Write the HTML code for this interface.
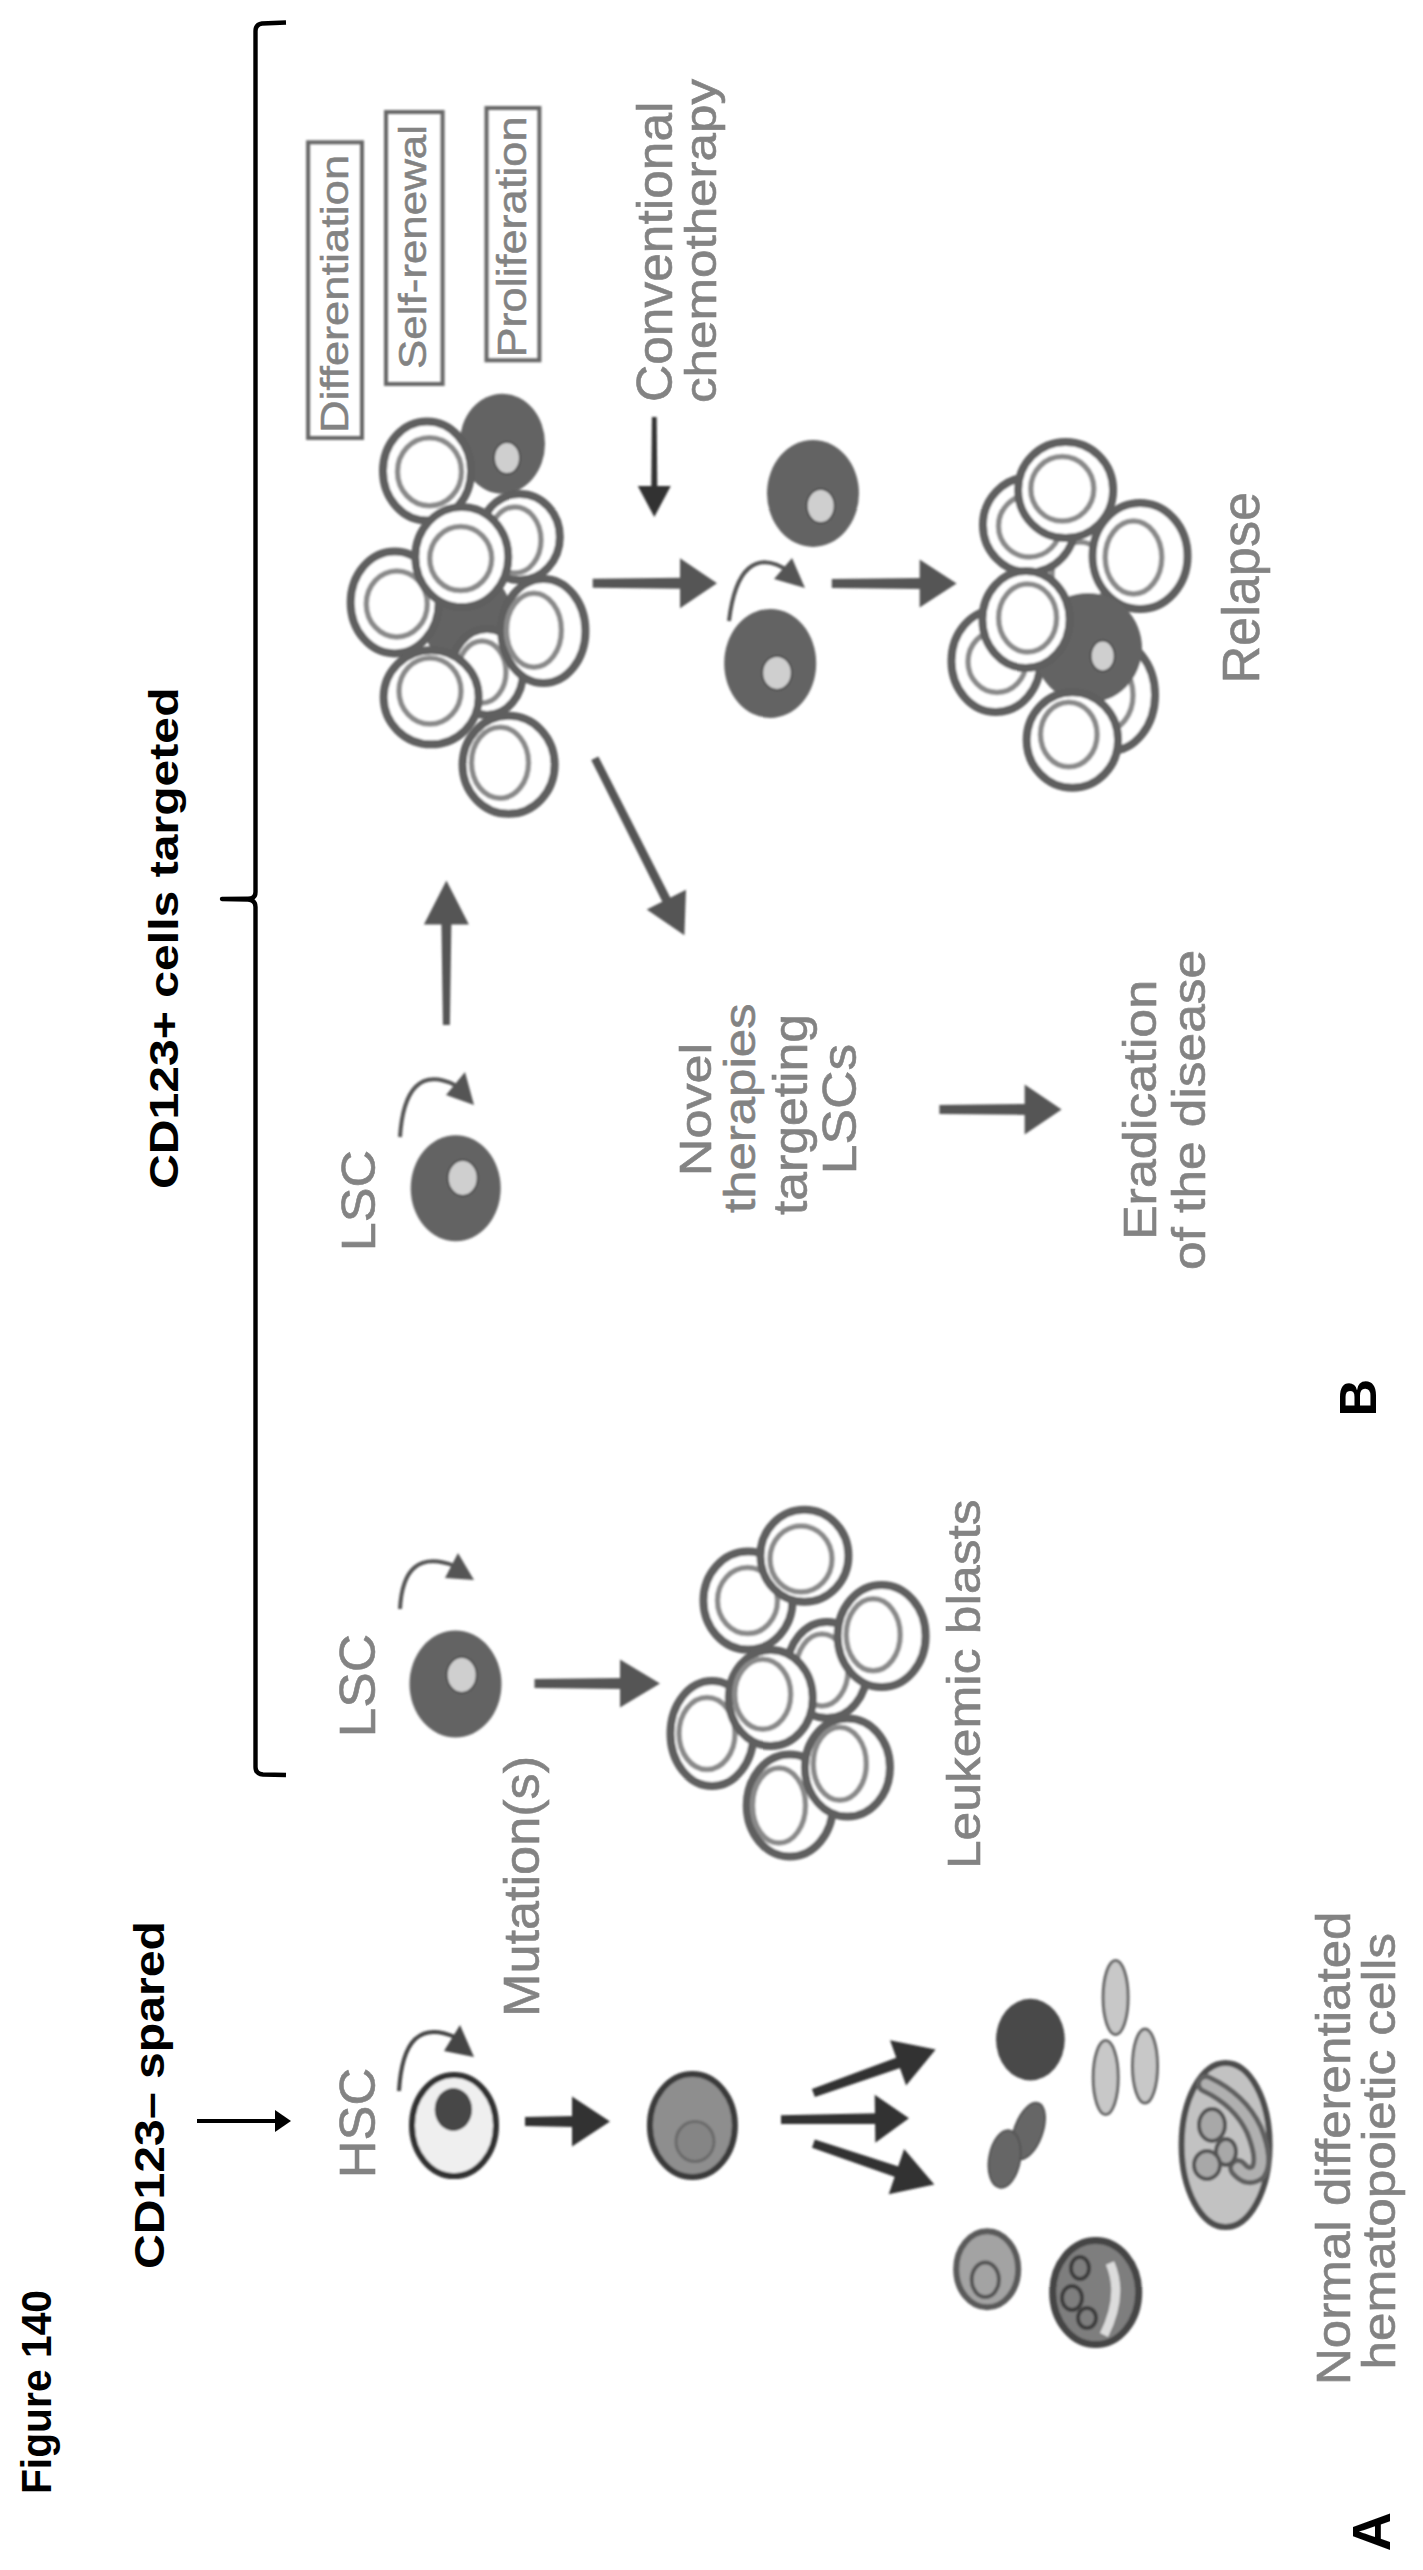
<!DOCTYPE html>
<html><head><meta charset="utf-8"><title>Figure 140</title>
<style>html,body{margin:0;padding:0;background:#fff;width:1423px;height:2570px;overflow:hidden}svg{display:block}text{font-family:"Liberation Sans",sans-serif}</style></head><body>
<svg width="1423" height="2570" viewBox="0 0 1423 2570">
<defs><filter id="soft" x="-2%" y="-2%" width="104%" height="104%"><feGaussianBlur stdDeviation="0.9"/></filter></defs>
<rect width="1423" height="2570" fill="#fff"/>
<path d="M286,22.5 L262,23.5 Q255.5,24.5 255.5,31 L255.5,892 Q255.5,898.7 248,898.7 L222,899 L248,899.5 Q255.5,900 255.5,907 L255.5,1767 Q255.5,1774 263,1774.5 L286,1775" fill="none" stroke="#000" stroke-width="4.4" stroke-linejoin="round"/>
<polygon points="197.0,2123.0 277.0,2123.0 277.0,2119.0 197.0,2119.0" fill="#000"/>
<polygon points="291.0,2121.0 275.0,2132.0 275.0,2110.0" fill="#000"/>
<g filter="url(#soft)">
<path d="M399,2091 C402,2040 420,2022 455,2037" fill="none" stroke="#444" stroke-width="4"/>
<polygon points="444.0,2051.0 460.0,2025.0 474.0,2057.0" fill="#444"/>
<ellipse cx="454.0" cy="2125.5" rx="42.0" ry="50.5" fill="#efefef" stroke="#333" stroke-width="6" />
<ellipse cx="453.4" cy="2109.5" rx="18.7" ry="21.4" fill="#474747" stroke="none" stroke-width="0" />
<polygon points="525.0,2125.9 574.0,2127.0 574.0,2116.0 525.0,2117.1" fill="#333"/>
<polygon points="610.0,2121.5 572.0,2146.5 572.0,2096.5" fill="#333"/>
<ellipse cx="692.4" cy="2125.5" rx="42.5" ry="51.5" fill="#8e8e8e" stroke="#3a3a3a" stroke-width="6" />
<ellipse cx="695.0" cy="2141.5" rx="19.0" ry="20.0" fill="#858585" stroke="#6a6a6a" stroke-width="3" />
<polygon points="814.9,2097.1 901.7,2067.4 898.1,2057.1 811.9,2088.9" fill="#333"/>
<polygon points="935.7,2049.5 906.1,2085.5 890.0,2040.3" fill="#333"/>
<polygon points="781.0,2124.1 877.1,2124.1 876.9,2113.2 781.0,2115.3" fill="#333"/>
<polygon points="909.0,2118.3 875.3,2142.7 874.7,2094.7" fill="#333"/>
<polygon points="812.0,2147.8 896.5,2177.5 900.1,2167.0 814.8,2139.4" fill="#333"/>
<polygon points="934.3,2184.4 888.7,2194.3 904.1,2148.9" fill="#333"/>
<ellipse cx="1030.4" cy="2039.6" rx="34.4" ry="40.8" fill="#4a4a4a" stroke="none" stroke-width="0" />
<g transform="rotate(20 1028.4 2131)">
<ellipse cx="1028.4" cy="2131.0" rx="14.0" ry="29.5" fill="#666" stroke="#555" stroke-width="2" />
</g>
<g transform="rotate(10 1004.6 2159)">
<ellipse cx="1004.6" cy="2159.0" rx="15.5" ry="29.0" fill="#666" stroke="#555" stroke-width="2" />
</g>
<ellipse cx="1115.6" cy="1997.5" rx="12.5" ry="37.0" fill="#c8c8c8" stroke="#666" stroke-width="3" />
<ellipse cx="1105.7" cy="2077.6" rx="12.5" ry="37.0" fill="#c8c8c8" stroke="#666" stroke-width="3" />
<ellipse cx="1145.0" cy="2066.0" rx="12.5" ry="37.0" fill="#c8c8c8" stroke="#666" stroke-width="3" />
<ellipse cx="987.2" cy="2269.3" rx="31.0" ry="38.0" fill="#a3a3a3" stroke="#5a5a5a" stroke-width="6" />
<ellipse cx="985.3" cy="2279.7" rx="13.6" ry="17.3" fill="none" stroke="#555" stroke-width="4" />
<ellipse cx="1095.7" cy="2292.6" rx="43.0" ry="52.0" fill="#7e7e7e" stroke="#454545" stroke-width="7" />
<path d="M1110,2263 Q1124,2295 1104,2335" fill="none" stroke="#dcdcdc" stroke-width="9"/>
<ellipse cx="1080.0" cy="2268.0" rx="9.0" ry="11.0" fill="none" stroke="#3e3e3e" stroke-width="4" />
<ellipse cx="1072.0" cy="2298.0" rx="10.0" ry="12.0" fill="none" stroke="#3e3e3e" stroke-width="4" />
<ellipse cx="1087.0" cy="2318.0" rx="9.0" ry="10.0" fill="none" stroke="#3e3e3e" stroke-width="4" />
<ellipse cx="1225.6" cy="2145.0" rx="44.0" ry="82.0" fill="#c2c2c2" stroke="#4e4e4e" stroke-width="6" />
<path d="M1206,2084 Q1240,2100 1254,2130 Q1266,2160 1258,2172 Q1248,2180 1238,2168" fill="none" stroke="#606060" stroke-width="20" stroke-linecap="round"/>
<path d="M1206,2084 Q1240,2100 1254,2130 Q1266,2160 1258,2172 Q1248,2180 1238,2168" fill="none" stroke="#b0b0b0" stroke-width="10" stroke-linecap="round"/>
<ellipse cx="1212.0" cy="2125.0" rx="13.0" ry="16.0" fill="#a8a8a8" stroke="#555" stroke-width="4" />
<ellipse cx="1226.0" cy="2152.0" rx="10.0" ry="13.0" fill="#a8a8a8" stroke="#555" stroke-width="4" />
<ellipse cx="1207.0" cy="2165.0" rx="13.0" ry="14.0" fill="#a8a8a8" stroke="#555" stroke-width="4" />
<path d="M400,1609 C402,1570 418,1552 455,1566" fill="none" stroke="#555" stroke-width="4"/>
<polygon points="445.0,1578.0 458.0,1553.0 474.0,1580.0" fill="#555"/>
<ellipse cx="455.5" cy="1684.0" rx="46.0" ry="53.5" fill="#636363" stroke="none" stroke-width="0" />
<ellipse cx="461.7" cy="1675.0" rx="15.0" ry="18.0" fill="#cfcfcf" stroke="#505050" stroke-width="2" />
<polygon points="534.5,1688.1 622.0,1689.1 622.0,1678.1 534.5,1679.1" fill="#555"/>
<polygon points="660.0,1683.6 620.0,1707.6 620.0,1659.6" fill="#555"/>
<ellipse cx="827.0" cy="1670.0" rx="40.0" ry="48.0" fill="#fff" stroke="#5e5e5e" stroke-width="8" />
<ellipse cx="822.0" cy="1670.0" rx="26.0" ry="36.0" fill="#fff" stroke="#8a8a8a" stroke-width="5.5" />
<ellipse cx="748.0" cy="1600.6" rx="44.5" ry="49.0" fill="#fff" stroke="#5e5e5e" stroke-width="8" />
<ellipse cx="747.5" cy="1600.6" rx="30.0" ry="33.0" fill="#fff" stroke="#8a8a8a" stroke-width="5.5" />
<ellipse cx="804.4" cy="1555.7" rx="44.0" ry="46.0" fill="#fff" stroke="#5e5e5e" stroke-width="8" />
<ellipse cx="801.0" cy="1559.0" rx="31.0" ry="33.0" fill="#fff" stroke="#8a8a8a" stroke-width="5.5" />
<ellipse cx="881.6" cy="1636.0" rx="44.0" ry="51.0" fill="#fff" stroke="#5e5e5e" stroke-width="8" />
<ellipse cx="873.2" cy="1634.8" rx="27.0" ry="36.0" fill="#fff" stroke="#8a8a8a" stroke-width="5.5" />
<ellipse cx="712.0" cy="1733.5" rx="41.5" ry="52.5" fill="#fff" stroke="#5e5e5e" stroke-width="8" />
<ellipse cx="707.0" cy="1733.5" rx="28.0" ry="36.0" fill="#fff" stroke="#8a8a8a" stroke-width="5.5" />
<ellipse cx="770.8" cy="1698.0" rx="42.0" ry="48.0" fill="#fff" stroke="#5e5e5e" stroke-width="8" />
<ellipse cx="762.7" cy="1694.2" rx="28.0" ry="35.0" fill="#fff" stroke="#8a8a8a" stroke-width="5.5" />
<ellipse cx="789.8" cy="1805.5" rx="43.0" ry="51.0" fill="#fff" stroke="#5e5e5e" stroke-width="8" />
<ellipse cx="779.0" cy="1805.5" rx="26.5" ry="37.5" fill="#fff" stroke="#8a8a8a" stroke-width="5.5" />
<ellipse cx="847.4" cy="1767.6" rx="42.5" ry="49.0" fill="#fff" stroke="#5e5e5e" stroke-width="8" />
<ellipse cx="839.8" cy="1763.8" rx="26.5" ry="36.5" fill="#fff" stroke="#8a8a8a" stroke-width="5.5" />
<path d="M400,1137 C403,1090 420,1068 455,1085" fill="none" stroke="#555" stroke-width="4"/>
<polygon points="446.0,1095.0 465.0,1072.0 474.0,1105.0" fill="#555"/>
<ellipse cx="455.7" cy="1188.3" rx="45.0" ry="53.0" fill="#636363" stroke="none" stroke-width="0" />
<ellipse cx="462.7" cy="1178.0" rx="15.0" ry="18.0" fill="#cfcfcf" stroke="#505050" stroke-width="2" />
<polygon points="449.9,1025.0 451.4,922.6 441.4,922.6 442.9,1025.0" fill="#555"/>
<polygon points="446.4,880.6 468.9,924.6 423.9,924.6" fill="#555"/>
<ellipse cx="467.0" cy="618.0" rx="45.0" ry="50.0" fill="#636363" stroke="none" stroke-width="0" />
<ellipse cx="502.3" cy="443.7" rx="42.7" ry="50.0" fill="#636363" stroke="none" stroke-width="0" />
<ellipse cx="507.0" cy="458.0" rx="13.0" ry="16.0" fill="#cfcfcf" stroke="#505050" stroke-width="2" />
<ellipse cx="519.8" cy="537.0" rx="40.0" ry="43.0" fill="#fff" stroke="#5e5e5e" stroke-width="8" />
<ellipse cx="515.0" cy="540.0" rx="26.0" ry="33.0" fill="#fff" stroke="#8a8a8a" stroke-width="5.5" />
<ellipse cx="487.0" cy="672.0" rx="36.0" ry="43.0" fill="#fff" stroke="#5e5e5e" stroke-width="8" />
<ellipse cx="482.0" cy="672.0" rx="24.0" ry="31.0" fill="#fff" stroke="#8a8a8a" stroke-width="5.5" />
<ellipse cx="427.0" cy="471.0" rx="44.0" ry="49.5" fill="#fff" stroke="#5e5e5e" stroke-width="8" />
<ellipse cx="429.5" cy="471.7" rx="32.0" ry="34.0" fill="#fff" stroke="#8a8a8a" stroke-width="5.5" />
<ellipse cx="394.7" cy="602.4" rx="44.0" ry="51.0" fill="#fff" stroke="#5e5e5e" stroke-width="8" />
<ellipse cx="396.8" cy="603.9" rx="30.5" ry="33.0" fill="#fff" stroke="#8a8a8a" stroke-width="5.5" />
<ellipse cx="461.8" cy="557.0" rx="46.5" ry="50.0" fill="#fff" stroke="#5e5e5e" stroke-width="8" />
<ellipse cx="460.7" cy="558.6" rx="31.0" ry="32.0" fill="#fff" stroke="#8a8a8a" stroke-width="5.5" />
<ellipse cx="543.4" cy="630.9" rx="42.0" ry="52.0" fill="#fff" stroke="#5e5e5e" stroke-width="8" />
<ellipse cx="533.9" cy="630.3" rx="27.5" ry="37.0" fill="#fff" stroke="#8a8a8a" stroke-width="5.5" />
<ellipse cx="431.2" cy="697.3" rx="47.5" ry="47.0" fill="#fff" stroke="#5e5e5e" stroke-width="8" />
<ellipse cx="430.0" cy="691.0" rx="31.0" ry="33.0" fill="#fff" stroke="#8a8a8a" stroke-width="5.5" />
<ellipse cx="508.6" cy="764.8" rx="46.0" ry="49.0" fill="#fff" stroke="#5e5e5e" stroke-width="8" />
<ellipse cx="500.0" cy="762.7" rx="28.5" ry="35.5" fill="#fff" stroke="#8a8a8a" stroke-width="5.5" />
<rect x="308.1" y="142.3" width="53.9" height="295.7" fill="none" stroke="#666" stroke-width="4"/>
<rect x="386.0" y="112.0" width="56.6" height="272.0" fill="none" stroke="#666" stroke-width="4"/>
<rect x="486.5" y="108.0" width="52.9" height="252.3" fill="none" stroke="#666" stroke-width="4"/>
<polygon points="651.9,417.0 651.3,488.0 657.3,488.0 656.7,417.0" fill="#333"/>
<polygon points="654.3,517.0 637.8,486.0 670.8,486.0" fill="#333"/>
<polygon points="592.7,587.8 682.0,588.8 682.0,577.8 592.7,578.8" fill="#555"/>
<polygon points="717.0,583.3 680.0,608.3 680.0,558.3" fill="#555"/>
<path d="M729,621 C735,570 755,548 790,572" fill="none" stroke="#555" stroke-width="4"/>
<polygon points="774.0,579.0 792.0,558.0 805.0,588.0" fill="#555"/>
<ellipse cx="770.2" cy="663.4" rx="46.0" ry="54.5" fill="#636363" stroke="none" stroke-width="0" />
<ellipse cx="777.0" cy="672.9" rx="14.8" ry="17.0" fill="#cfcfcf" stroke="#505050" stroke-width="2" />
<ellipse cx="813.0" cy="493.4" rx="46.0" ry="53.5" fill="#636363" stroke="none" stroke-width="0" />
<ellipse cx="820.7" cy="506.0" rx="14.0" ry="17.0" fill="#cfcfcf" stroke="#505050" stroke-width="2" />
<polygon points="591.2,760.0 663.2,903.4 671.3,899.4 598.4,756.4" fill="#555"/>
<polygon points="684.4,935.3 646.7,909.5 686.0,889.7" fill="#555"/>
<polygon points="939.4,1113.9 1026.6,1114.9 1026.6,1103.9 939.4,1104.9" fill="#555"/>
<polygon points="1061.6,1109.4 1024.6,1134.4 1024.6,1084.4" fill="#555"/>
<polygon points="831.8,588.1 921.6,589.1 921.6,578.1 831.8,579.1" fill="#555"/>
<polygon points="956.6,583.6 919.6,607.6 919.6,559.6" fill="#555"/>
<ellipse cx="1085.0" cy="575.0" rx="45.0" ry="48.0" fill="#fff" stroke="#5e5e5e" stroke-width="8" />
<ellipse cx="1080.0" cy="575.0" rx="28.0" ry="33.0" fill="#fff" stroke="#8a8a8a" stroke-width="5.5" />
<ellipse cx="1110.0" cy="695.0" rx="45.0" ry="56.0" fill="#fff" stroke="#5e5e5e" stroke-width="8" />
<ellipse cx="1105.0" cy="695.0" rx="28.0" ry="36.0" fill="#fff" stroke="#8a8a8a" stroke-width="5.5" />
<ellipse cx="1029.0" cy="525.0" rx="46.0" ry="47.5" fill="#fff" stroke="#5e5e5e" stroke-width="8" />
<ellipse cx="1029.5" cy="526.0" rx="31.0" ry="31.0" fill="#fff" stroke="#8a8a8a" stroke-width="5.5" />
<ellipse cx="1065.6" cy="490.0" rx="47.5" ry="48.0" fill="#fff" stroke="#5e5e5e" stroke-width="8" />
<ellipse cx="1062.3" cy="488.8" rx="31.5" ry="32.3" fill="#fff" stroke="#8a8a8a" stroke-width="5.5" />
<ellipse cx="1140.0" cy="556.0" rx="47.5" ry="53.0" fill="#fff" stroke="#5e5e5e" stroke-width="8" />
<ellipse cx="1133.5" cy="557.5" rx="28.3" ry="36.4" fill="#fff" stroke="#8a8a8a" stroke-width="5.5" />
<ellipse cx="996.0" cy="661.0" rx="44.5" ry="51.0" fill="#fff" stroke="#5e5e5e" stroke-width="8" />
<ellipse cx="997.0" cy="661.7" rx="29.0" ry="30.7" fill="#fff" stroke="#8a8a8a" stroke-width="5.5" />
<ellipse cx="1088.0" cy="648.0" rx="54.0" ry="55.0" fill="#636363" stroke="none" stroke-width="0" />
<ellipse cx="1102.7" cy="656.0" rx="12.0" ry="15.4" fill="#cfcfcf" stroke="#505050" stroke-width="2" />
<ellipse cx="1026.0" cy="619.5" rx="43.6" ry="48.5" fill="#fff" stroke="#5e5e5e" stroke-width="8" />
<ellipse cx="1027.6" cy="618.0" rx="29.0" ry="34.0" fill="#fff" stroke="#8a8a8a" stroke-width="5.5" />
<ellipse cx="1072.4" cy="740.0" rx="45.7" ry="47.7" fill="#fff" stroke="#5e5e5e" stroke-width="8" />
<ellipse cx="1068.8" cy="734.5" rx="28.3" ry="32.3" fill="#fff" stroke="#8a8a8a" stroke-width="5.5" />
</g>
<text x="0" y="0" transform="translate(50.50,2494.08) rotate(-90)" font-weight="bold" font-size="42.11" textLength="204.13" lengthAdjust="spacingAndGlyphs" fill="#000" stroke="#000" stroke-width="0" xml:space="preserve">Figure 140</text>
<text x="0" y="0" transform="translate(163.50,2269.03) rotate(-90)" font-weight="bold" font-size="42.11" textLength="348.07" lengthAdjust="spacingAndGlyphs" fill="#000" stroke="#000" stroke-width="0" xml:space="preserve">CD123– spared</text>
<text x="0" y="0" transform="translate(178.31,1189.02) rotate(-90)" font-weight="bold" font-size="40.57" textLength="501.56" lengthAdjust="spacingAndGlyphs" fill="#000" stroke="#000" stroke-width="0" xml:space="preserve">CD123+ cells targeted</text>
<text x="0" y="0" transform="translate(1390.45,2551.18) rotate(-90)" font-weight="bold" font-size="53.37" textLength="39.29" lengthAdjust="spacingAndGlyphs" fill="#000" stroke="#000" stroke-width="0" xml:space="preserve">A</text>
<text x="0" y="0" transform="translate(1375.67,1416.62) rotate(-90)" font-weight="bold" font-size="51.95" textLength="37.56" lengthAdjust="spacingAndGlyphs" fill="#000" stroke="#000" stroke-width="0" xml:space="preserve">B</text>
<text x="0" y="0" transform="translate(374.73,2178.24) rotate(-90)" font-weight="normal" font-size="50.53" textLength="110.37" lengthAdjust="spacingAndGlyphs" fill="#838383" stroke="#838383" stroke-width="0.6" xml:space="preserve">HSC</text>
<text x="0" y="0" transform="translate(539.18,2017.11) rotate(-90)" font-weight="normal" font-size="49.40" textLength="261.20" lengthAdjust="spacingAndGlyphs" fill="#838383" stroke="#838383" stroke-width="0.6" xml:space="preserve">Mutation(s)</text>
<text x="0" y="0" transform="translate(374.92,1737.26) rotate(-90)" font-weight="normal" font-size="50.36" textLength="103.40" lengthAdjust="spacingAndGlyphs" fill="#838383" stroke="#838383" stroke-width="0.6" xml:space="preserve">LSC</text>
<text x="0" y="0" transform="translate(980.26,1869.06) rotate(-90)" font-weight="normal" font-size="46.80" textLength="369.58" lengthAdjust="spacingAndGlyphs" fill="#838383" stroke="#838383" stroke-width="0.6" xml:space="preserve">Leukemic blasts</text>
<text x="0" y="0" transform="translate(1349.92,2385.06) rotate(-90)" font-weight="normal" font-size="48.46" textLength="473.60" lengthAdjust="spacingAndGlyphs" fill="#838383" stroke="#838383" stroke-width="0.6" xml:space="preserve">Normal differentiated</text>
<text x="0" y="0" transform="translate(1394.93,2369.54) rotate(-90)" font-weight="normal" font-size="46.07" textLength="436.57" lengthAdjust="spacingAndGlyphs" fill="#838383" stroke="#838383" stroke-width="0.6" xml:space="preserve">hematopoietic cells</text>
<text x="0" y="0" transform="translate(375.11,1251.20) rotate(-90)" font-weight="normal" font-size="48.24" textLength="101.28" lengthAdjust="spacingAndGlyphs" fill="#838383" stroke="#838383" stroke-width="0.6" xml:space="preserve">LSC</text>
<text x="0" y="0" transform="translate(710.95,1176.17) rotate(-90)" font-weight="normal" font-size="44.20" textLength="133.31" lengthAdjust="spacingAndGlyphs" fill="#838383" stroke="#838383" stroke-width="0.6" xml:space="preserve">Novel</text>
<text x="0" y="0" transform="translate(755.07,1213.01) rotate(-90)" font-weight="normal" font-size="44.25" textLength="209.52" lengthAdjust="spacingAndGlyphs" fill="#838383" stroke="#838383" stroke-width="0.6" xml:space="preserve">therapies</text>
<text x="0" y="0" transform="translate(807.38,1215.01) rotate(-90)" font-weight="normal" font-size="47.91" textLength="201.06" lengthAdjust="spacingAndGlyphs" fill="#838383" stroke="#838383" stroke-width="0.6" xml:space="preserve">targeting</text>
<text x="0" y="0" transform="translate(856.08,1174.19) rotate(-90)" font-weight="normal" font-size="48.94" textLength="130.26" lengthAdjust="spacingAndGlyphs" fill="#838383" stroke="#838383" stroke-width="0.6" xml:space="preserve">LSCs</text>
<text x="0" y="0" transform="translate(1156.25,1240.11) rotate(-90)" font-weight="normal" font-size="45.44" textLength="260.20" lengthAdjust="spacingAndGlyphs" fill="#838383" stroke="#838383" stroke-width="0.6" xml:space="preserve">Eradication</text>
<text x="0" y="0" transform="translate(1205.26,1270.03) rotate(-90)" font-weight="normal" font-size="46.80" textLength="320.05" lengthAdjust="spacingAndGlyphs" fill="#838383" stroke="#838383" stroke-width="0.6" xml:space="preserve">of the disease</text>
<text x="0" y="0" transform="translate(1258.69,683.62) rotate(-90)" font-weight="normal" font-size="51.59" textLength="191.69" lengthAdjust="spacingAndGlyphs" fill="#838383" stroke="#838383" stroke-width="0.6" xml:space="preserve">Relapse</text>
<text x="0" y="0" transform="translate(672.31,402.03) rotate(-90)" font-weight="normal" font-size="50.79" textLength="300.58" lengthAdjust="spacingAndGlyphs" fill="#838383" stroke="#838383" stroke-width="0.6" xml:space="preserve">Conventional</text>
<text x="0" y="0" transform="translate(716.43,403.01) rotate(-90)" font-weight="normal" font-size="45.27" textLength="324.01" lengthAdjust="spacingAndGlyphs" fill="#838383" stroke="#838383" stroke-width="0.6" xml:space="preserve">chemotherapy</text>
<text x="0" y="0" transform="translate(347.86,433.08) rotate(-90)" font-weight="normal" font-size="38.25" textLength="278.14" lengthAdjust="spacingAndGlyphs" fill="#838383" stroke="#838383" stroke-width="0.5" xml:space="preserve">Differentiation</text>
<text x="0" y="0" transform="translate(426.24,369.03) rotate(-90)" font-weight="normal" font-size="38.93" textLength="244.07" lengthAdjust="spacingAndGlyphs" fill="#838383" stroke="#838383" stroke-width="0.5" xml:space="preserve">Self-renewal</text>
<text x="0" y="0" transform="translate(526.19,357.57) rotate(-90)" font-weight="normal" font-size="39.89" textLength="241.13" lengthAdjust="spacingAndGlyphs" fill="#838383" stroke="#838383" stroke-width="0.5" xml:space="preserve">Proliferation</text>
</svg>
</body></html>
